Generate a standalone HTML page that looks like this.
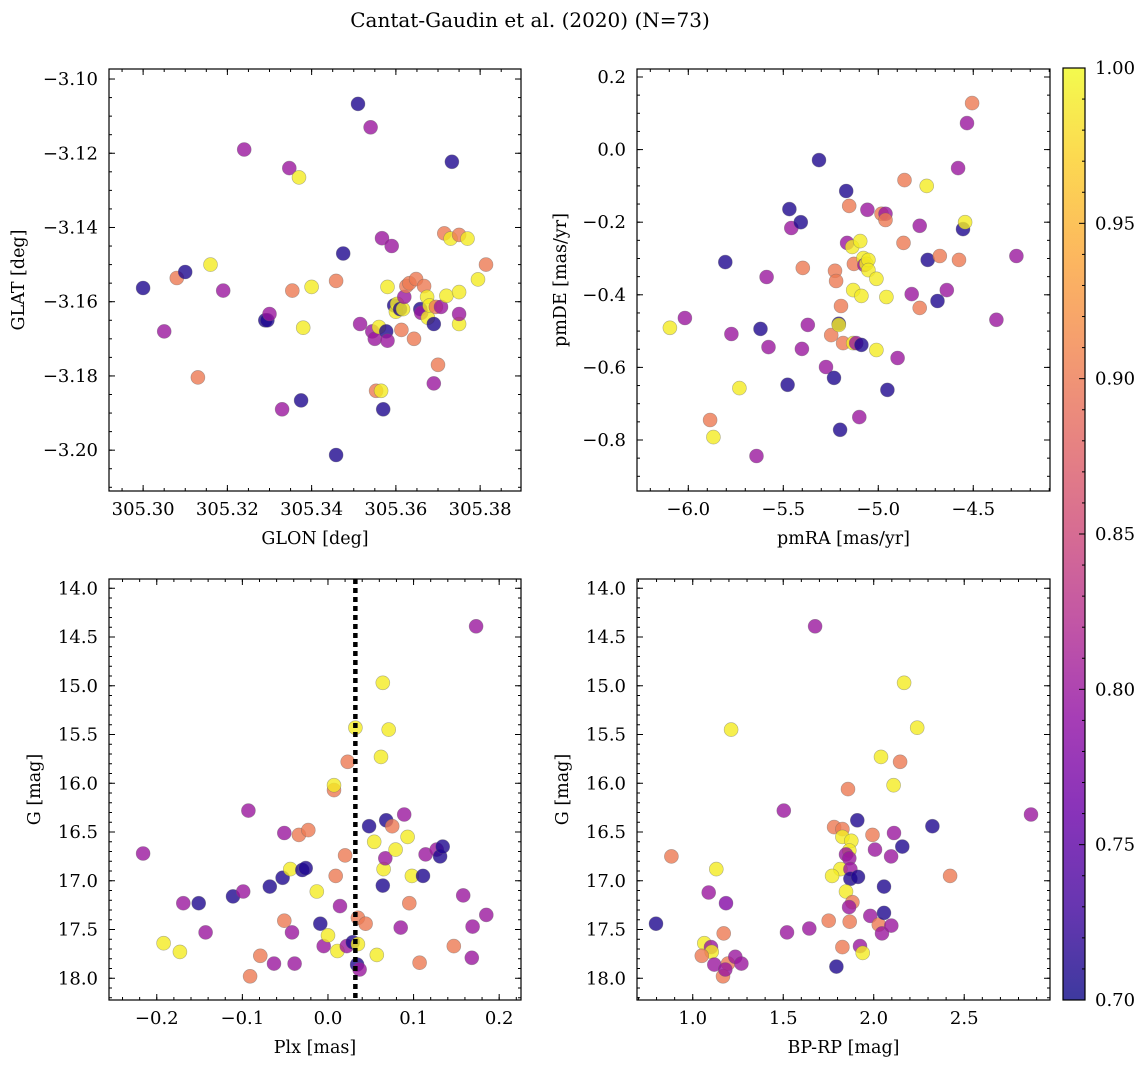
<!DOCTYPE html>
<html><head><meta charset="utf-8">
<style>
body{margin:0;background:#fff;}
svg{display:block;font-family:"DejaVu Serif","Liberation Serif",serif;}
</style></head>
<body>
<svg id="fig" width="1148" height="1068" viewBox="0 0 1148 1068" xmlns="http://www.w3.org/2000/svg">
<defs>
<linearGradient id="cbgrad" x1="0" y1="1" x2="0" y2="0">
<stop offset="0" stop-color="#0d0887"/><stop offset="0.1" stop-color="#41049d"/><stop offset="0.2" stop-color="#6a00a8"/><stop offset="0.3" stop-color="#8f0da4"/><stop offset="0.4" stop-color="#b12a90"/><stop offset="0.5" stop-color="#cc4778"/><stop offset="0.6" stop-color="#e16462"/><stop offset="0.7" stop-color="#f2844b"/><stop offset="0.8" stop-color="#fca636"/><stop offset="0.9" stop-color="#fcce25"/><stop offset="1" stop-color="#f0f921"/>
</linearGradient>
</defs>
<text x="530" y="27" font-size="20" text-anchor="middle">Cantat-Gaudin et al. (2020) (N=73)</text>
</svg>
<script>
// ---- Panel 1: GLON vs GLAT ----
const glonTL=[305.300,305.305,305.308,305.310,305.313,305.316,305.319,305.324,305.329,305.3295,305.330,305.333,305.3347,305.3354,305.337,305.3375,305.338,305.340,305.3458,305.3458,305.3475,305.351,305.3515,305.354,305.3544,305.355,305.3553,305.356,305.3565,305.3567,305.357,305.3577,305.358,305.358,305.359,305.3596,305.360,305.3603,305.361,305.3617,305.362,305.3625,305.3632,305.3613,305.3643,305.3648,305.3658,305.366,305.3667,305.3674,305.3676,305.368,305.369,305.369,305.3695,305.370,305.3707,305.3715,305.372,305.373,305.3733,305.375,305.375,305.375,305.375,305.377,305.3795,305.3814];
const glatTL=[-3.1563,-3.168,-3.1536,-3.152,-3.1804,-3.150,-3.157,-3.119,-3.165,-3.165,-3.1633,-3.189,-3.124,-3.157,-3.1265,-3.1866,-3.167,-3.156,-3.1544,-3.2013,-3.147,-3.1067,-3.166,-3.113,-3.168,-3.170,-3.184,-3.1668,-3.184,-3.1429,-3.189,-3.168,-3.156,-3.1705,-3.145,-3.161,-3.1627,-3.1606,-3.162,-3.162,-3.1587,-3.1558,-3.155,-3.1676,-3.170,-3.1539,-3.162,-3.163,-3.1558,-3.1587,-3.1643,-3.161,-3.182,-3.166,-3.1614,-3.177,-3.1614,-3.1416,-3.1584,-3.143,-3.1223,-3.142,-3.1574,-3.166,-3.1633,-3.143,-3.154,-3.150];
const probTL=[0.71,0.80,0.90,0.71,0.90,0.99,0.80,0.80,0.71,0.71,0.80,0.80,0.80,0.90,0.99,0.71,0.99,0.99,0.90,0.71,0.71,0.71,0.80,0.80,0.80,0.80,0.90,0.99,0.99,0.80,0.71,0.71,0.99,0.80,0.80,0.71,0.99,0.99,0.71,0.99,0.80,0.90,0.90,0.90,0.90,0.90,0.71,0.80,0.90,0.99,0.99,0.99,0.80,0.71,0.90,0.90,0.80,0.90,0.99,0.99,0.71,0.90,0.99,0.99,0.80,0.99,0.99,0.90];
const xTicksTL=["305.30","305.32","305.34","305.36","305.38"];
const yTicksTL=["−3.10","−3.12","−3.14","−3.16","−3.18","−3.20"];

// ---- Panel 2: pmRA vs pmDE ----
const pmraTR=[-6.097,-6.018,-5.885,-5.868,-5.805,-5.773,-5.731,-5.641,-5.620,-5.588,-5.578,-5.477,-5.468,-5.458,-5.408,-5.397,-5.402,-5.371,-5.312,-5.275,-5.248,-5.233,-5.228,-5.222,-5.208,-5.208,-5.201,-5.196,-5.185,-5.169,-5.164,-5.153,-5.137,-5.132,-5.132,-5.128,-5.116,-5.100,-5.095,-5.089,-5.089,-5.078,-5.073,-5.063,-5.057,-5.052,-5.052,-5.010,-5.010,-4.983,-4.962,-4.962,-4.957,-4.952,-4.898,-4.867,-4.862,-4.824,-4.782,-4.782,-4.745,-4.740,-4.676,-4.639,-4.580,-4.575,-4.554,-4.543,-4.533,-4.506,-4.378,-4.273,-4.688];
const pmdeTR=[-0.491,-0.464,-0.745,-0.792,-0.31,-0.508,-0.657,-0.844,-0.494,-0.351,-0.544,-0.648,-0.164,-0.216,-0.2,-0.326,-0.549,-0.483,-0.029,-0.599,-0.511,-0.629,-0.334,-0.362,-0.48,-0.483,-0.772,-0.431,-0.533,-0.114,-0.257,-0.155,-0.268,-0.533,-0.387,-0.315,-0.533,-0.737,-0.252,-0.403,-0.538,-0.299,-0.318,-0.315,-0.166,-0.304,-0.332,-0.356,-0.552,-0.177,-0.177,-0.194,-0.406,-0.662,-0.574,-0.257,-0.084,-0.398,-0.21,-0.436,-0.1,-0.304,-0.293,-0.387,-0.051,-0.304,-0.219,-0.2,0.073,0.128,-0.469,-0.293,-0.417];
const probTR=[0.99,0.80,0.90,0.99,0.71,0.80,0.99,0.80,0.71,0.80,0.80,0.71,0.71,0.80,0.71,0.90,0.80,0.80,0.71,0.80,0.90,0.71,0.90,0.90,0.71,0.99,0.71,0.90,0.90,0.71,0.80,0.90,0.99,0.99,0.99,0.90,0.80,0.80,0.99,0.99,0.71,0.99,0.80,0.99,0.80,0.99,0.99,0.99,0.99,0.90,0.80,0.90,0.99,0.71,0.80,0.90,0.90,0.80,0.80,0.90,0.99,0.71,0.90,0.80,0.80,0.90,0.71,0.99,0.80,0.90,0.80,0.80,0.71];
const xTicksTR=["−6.0","−5.5","−5.0","−4.5"];
const yTicksTR=["0.2","0.0","−0.2","−0.4","−0.6","−0.8"];

// ---- Panel 3: Plx vs G ----
const plxBL=[-0.216,-0.192,-0.173,-0.169,-0.151,-0.143,-0.111,-0.099,-0.093,-0.091,-0.079,-0.068,-0.063,-0.053,-0.051,-0.051,-0.044,-0.042,-0.039,-0.034,-0.030,-0.026,-0.023,-0.013,-0.009,-0.005,0.000,0.007,0.007,0.009,0.011,0.014,0.020,0.022,0.023,0.029,0.032,0.035,0.035,0.034,0.037,0.044,0.048,0.054,0.057,0.062,0.064,0.064,0.065,0.067,0.068,0.071,0.075,0.079,0.085,0.089,0.093,0.095,0.098,0.107,0.111,0.114,0.127,0.131,0.134,0.147,0.158,0.168,0.169,0.173,0.185];
const gBL=[16.72,17.64,17.73,17.23,17.23,17.53,17.16,17.11,16.28,17.98,17.77,17.06,17.85,16.97,17.41,16.51,16.88,17.53,17.85,16.53,16.89,16.87,16.48,17.11,17.44,17.67,17.56,16.07,16.02,16.95,17.72,17.26,16.74,17.67,15.78,17.63,15.43,17.65,17.38,17.86,17.91,17.44,16.44,16.60,17.76,15.73,14.97,17.05,16.88,16.77,16.38,15.45,16.44,16.68,17.48,16.32,16.55,17.23,16.95,17.84,16.95,16.73,16.68,16.75,16.65,17.67,17.15,17.79,17.47,14.39,17.35];
const probBL=[0.80,0.99,0.99,0.80,0.71,0.80,0.71,0.80,0.80,0.90,0.90,0.71,0.80,0.71,0.90,0.80,0.99,0.80,0.80,0.90,0.71,0.71,0.90,0.99,0.71,0.80,0.99,0.90,0.99,0.90,0.99,0.80,0.90,0.80,0.90,0.71,0.99,0.99,0.90,0.71,0.80,0.90,0.71,0.99,0.99,0.99,0.99,0.71,0.99,0.80,0.71,0.99,0.90,0.99,0.80,0.80,0.99,0.90,0.99,0.90,0.71,0.80,0.80,0.71,0.71,0.90,0.80,0.80,0.80,0.80,0.80];
const plxCut=[0.032];
const xTicksBL=["−0.2","−0.1","0.0","0.1","0.2"];
const yTicksG=["14.0","14.5","15.0","15.5","16.0","16.5","17.0","17.5","18.0"];

// ---- Panel 4: BP-RP vs G ----
const bprpBR=[0.797,0.882,1.130,1.088,1.184,1.171,1.064,1.101,1.105,1.050,1.119,1.195,1.235,1.269,1.167,1.180,1.503,1.521,1.644,1.751,1.794,1.781,1.827,1.827,1.876,1.865,1.847,1.865,1.816,1.871,1.770,1.871,1.913,1.847,1.882,1.864,1.867,1.858,1.909,1.827,1.924,1.939,1.993,2.007,1.981,2.028,2.046,2.057,2.057,2.097,2.096,2.112,2.158,2.110,2.324,1.676,2.168,2.240,1.212,2.040,2.146,2.869,2.422];
const gBR=[17.44,16.75,16.88,17.12,17.23,17.54,17.64,17.68,17.73,17.77,17.86,17.85,17.78,17.85,17.98,17.91,16.28,17.53,17.49,17.41,17.88,16.45,16.47,16.55,16.59,16.69,16.73,16.77,16.88,16.88,16.95,16.98,16.96,17.11,17.22,17.27,17.42,16.06,16.38,17.68,17.67,17.74,16.53,16.68,17.36,17.45,17.54,17.33,17.06,17.46,16.75,16.51,16.65,16.02,16.44,14.39,14.97,15.43,15.45,15.73,15.78,16.32,16.95];
const probBR=[0.71,0.90,0.99,0.80,0.78,0.90,0.99,0.80,0.99,0.90,0.80,0.90,0.80,0.80,0.90,0.80,0.80,0.80,0.80,0.90,0.71,0.90,0.90,0.99,0.99,0.99,0.80,0.80,0.99,0.80,0.99,0.71,0.71,0.99,0.90,0.80,0.90,0.90,0.71,0.90,0.80,0.99,0.90,0.80,0.80,0.90,0.80,0.71,0.71,0.80,0.80,0.80,0.71,0.99,0.71,0.80,0.99,0.99,0.99,0.99,0.90,0.80,0.90];
const xTicksBR=["1.0","1.5","2.0","2.5"];
const cbTicks=["0.70","0.75","0.80","0.85","0.90","0.95","1.00"];

const NS="http://www.w3.org/2000/svg";
const svg=document.getElementById('fig');
const TFS=18, LFS=17.5;
function mk(tag,attrs,parent){const e=document.createElementNS(NS,tag);for(const k in attrs)e.setAttribute(k,attrs[k]);(parent||svg).appendChild(e);return e;}
const stops=[[13,8,135],[65,4,157],[106,0,168],[143,13,164],[177,42,144],[204,71,120],[225,100,98],[242,132,75],[252,166,54],[252,206,37],[240,249,33]];
function plasma(c){let t=(c-0.7)/0.3;t=Math.max(0,Math.min(1,t));const f=t*10,i=Math.min(9,Math.floor(f)),u=f-i;const a=stops[i],b=stops[i+1];return `rgb(${Math.round(a[0]+(b[0]-a[0])*u)},${Math.round(a[1]+(b[1]-a[1])*u)},${Math.round(a[2]+(b[2]-a[2])*u)})`;}
const num=s=>parseFloat(s.replace('−','-'));

function panel(cfg){
  const {name,x0,x1,y0,y1,xlim,ylim,xs,ys,cs,xt,yt,xminor,yminor,xlabel,ylabel,ylx}=cfg;
  const g=mk('g',{});
  
  
  const X=v=>x0+(v-xlim[0])/(xlim[1]-xlim[0])*(x1-x0);
  const Y=v=>y0+(ylim[1]-v)/(ylim[1]-ylim[0])*(y1-y0);
  const pg=mk('g',{},g);
  
  
  for(let i=0;i<xs.length;i++){
    const c=mk('circle',{cx:X(xs[i]).toFixed(1),cy:Y(ys[i]).toFixed(1),r:7,fill:plasma(cs[i]),'fill-opacity':0.8,stroke:'#666','stroke-opacity':0.5,'stroke-width':0.6},pg);
    
    
  }
  if(cfg.after)cfg.after(g,X,Y);
  const fr=mk('rect',{x:x0,y:y0,width:x1-x0,height:y1-y0,fill:'none',stroke:'#000','stroke-width':1.2},g);
  
  
  const tg=mk('g',{stroke:'#000','stroke-width':1},g);
  
  
  const lo=Math.min(...xlim),hi=Math.max(...xlim);
  for(let v=Math.ceil(lo/xminor-1e-6)*xminor;v<=hi+1e-9;v+=xminor){const px=X(v);mk('line',{x1:px,x2:px,y1:y1,y2:y1-3},tg);mk('line',{x1:px,x2:px,y1:y0,y2:y0+3},tg);}
  const ylo=Math.min(...ylim),yhi=Math.max(...ylim);
  for(let v=Math.ceil(ylo/yminor-1e-6)*yminor;v<=yhi+1e-9;v+=yminor){const py=Y(v);mk('line',{x1:x0,x2:x0+3,y1:py,y2:py},tg);mk('line',{x1:x1,x2:x1-3,y1:py,y2:py},tg);}
  xt.forEach(s=>{const px=X(num(s));mk('line',{x1:px,x2:px,y1:y1,y2:y1-6},tg);mk('line',{x1:px,x2:px,y1:y0,y2:y0+6},tg);
    const t=mk('text',{x:px,y:y1+24,'font-size':TFS,'text-anchor':'middle'},g);t.textContent=s;
    
    });
  yt.forEach(s=>{const py=Y(num(s));mk('line',{x1:x0,x2:x0+6,y1:py,y2:py},tg);mk('line',{x1:x1,x2:x1-6,y1:py,y2:py},tg);
    const t=mk('text',{x:x0-11,y:py+6,'font-size':TFS,'text-anchor':'end'},g);t.textContent=s;
    
    });
  const xl=mk('text',{x:(x0+x1)/2,y:y1+53,'font-size':LFS,'text-anchor':'middle'},g);xl.textContent=xlabel;
  
  
  const yl=mk('text',{x:ylx,y:(y0+y1)/2,'font-size':LFS,'text-anchor':'middle',transform:`rotate(-90 ${ylx} ${(y0+y1)/2})`},g);yl.textContent=ylabel;
  
  
}

panel({name:'panel-glon-glat',x0:109,x1:521,y0:69,y1:491,xlim:[305.2919,305.3897],ylim:[-3.2110,-3.0973],xs:glonTL,ys:glatTL,cs:probTL,xt:xTicksTL,yt:yTicksTL,xminor:0.005,yminor:0.005,xlabel:'GLON [deg]',ylabel:'GLAT [deg]',ylx:24});
panel({name:'panel-pmra-pmde',x0:637,x1:1050,y0:69,y1:491,xlim:[-6.270,-4.096],ylim:[-0.9405,0.222],xs:pmraTR,ys:pmdeTR,cs:probTR,xt:xTicksTR,yt:yTicksTR,xminor:0.1,yminor:0.05,xlabel:'pmRA [mas/yr]',ylabel:'pmDE [mas/yr]',ylx:566});
panel({name:'panel-plx-g',x0:109,x1:521,y0:579,y1:1000,xlim:[-0.2558,0.2255],ylim:[-18.223,-13.905],xs:plxBL,ys:gBL.map(v=>-v),cs:probBL,xt:xTicksBL,yt:[],xminor:0.02,yminor:0.1,xlabel:'Plx [mas]',ylabel:'G [mag]',ylx:40,
  after:(g,X,Y)=>{const l=mk('line',{x1:X(plxCut[0]),x2:X(plxCut[0]),y1:579,y2:1000,stroke:'#000','stroke-width':4.5,'stroke-dasharray':'5,4'},g);
    
    }});
panel({name:'panel-bprp-g',x0:637,x1:1050,y0:579,y1:1000,xlim:[0.692,2.974],ylim:[-18.223,-13.905],xs:bprpBR,ys:gBR.map(v=>-v),cs:probBR,xt:xTicksBR,yt:[],xminor:0.1,yminor:0.1,xlabel:'BP-RP [mag]',ylabel:'G [mag]',ylx:568});

function gTicks(x0,x1){const Y=v=>579+(v-13.905)/(18.223-13.905)*421;
  yTicksG.forEach(s=>{const py=Y(parseFloat(s));mk('line',{x1:x0,x2:x0+6,y1:py,y2:py,stroke:'#000'});mk('line',{x1:x1,x2:x1-6,y1:py,y2:py,stroke:'#000'});
    const t=mk('text',{x:x0-11,y:py+6,'font-size':TFS,'text-anchor':'end'});t.textContent=s;
    
    });}
gTicks(109,521);gTicks(637,1050);

const cbx=1063,cbw=22,cby0=68,cby1=1000;
const cb=mk('rect',{x:cbx,y:cby0,width:cbw,height:cby1-cby0,fill:'url(#cbgrad)','fill-opacity':0.8,stroke:'#000','stroke-width':1.2});


const CY=v=>cby1-(v-0.7)/0.3*(cby1-cby0);
for(let k=70;k<=100;k++){const py=CY(k/100);mk('line',{x1:cbx+cbw,x2:cbx+cbw-(k%5===0?6:3),y1:py,y2:py,stroke:'#000'});}
cbTicks.forEach(s=>{const t=mk('text',{x:cbx+cbw+10,y:CY(parseFloat(s))+6,'font-size':TFS});t.textContent=s;
  
  });
</script>
</body></html>
